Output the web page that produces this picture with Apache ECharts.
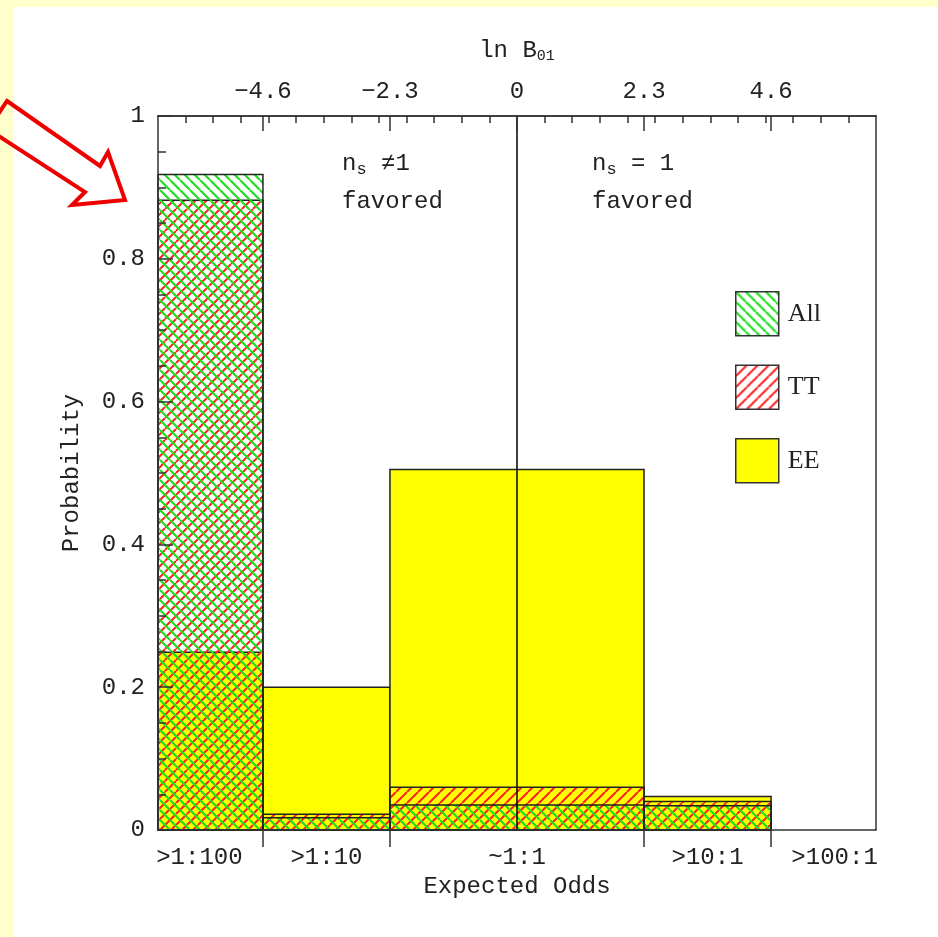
<!DOCTYPE html>
<html>
<head>
<meta charset="utf-8">
<script src="https://cdn.jsdelivr.net/npm/echarts@6/dist/echarts.min.js"></script>
<style>
  html, body { margin: 0; padding: 0; background: #ffffcc; }
  #chart { width: 938px; height: 937px; }
</style>
</head>
<body>
<div id="chart"></div>
<script>
// ---- data ----
const binEdges = [-6.9, -4.6, -2.3, 2.3, 4.6, 6.9];          // ln B01 bin edges
const oddsLabels = ['>1:100', '>1:10', '~1:1', '>10:1', '>100:1'];
const eeProb  = [0.249, 0.200, 0.505, 0.047, 0];
const ttProb  = [0.882, 0.022, 0.060, 0.040, 0];
const allProb = [0.918, 0.017, 0.035, 0.034, 0];
const lnBTicks = [-4.6, -2.3, 0, 2.3, 4.6];
const lnBMinorTicks = [-6, -5.5, -5, -4.5, -4, -3.5, -3, -2.5, -2, -1.5, -1, -0.5, 0,
                       0.5, 1, 1.5, 2, 2.5, 3, 3.5, 4, 4.5, 5, 5.5, 6];
const dividerLnB = 0;
const lnBRange = [-6.5, 6.5];

// ---- helpers ----
const binCenters = oddsLabels.map((_, i) => (binEdges[i] + binEdges[i + 1]) / 2);
const innerEdges = binEdges.slice(1, -1);
function toData(vals) { return vals.map((v, i) => [binEdges[i], binEdges[i + 1], v]); }

function hatch(color, dir, s, lw) {
  const c = document.createElement('canvas');
  c.width = s; c.height = s;
  const g = c.getContext('2d');
  g.strokeStyle = color; g.lineWidth = lw;
  g.beginPath();
  for (let k = -1; k <= 1; k++) {
    if (dir === 'back') { g.moveTo(k * s, 0); g.lineTo(k * s + s, s); }
    else { g.moveTo(k * s, s); g.lineTo(k * s + s, 0); }
  }
  g.stroke();
  return c;
}
const greenPat = { image: hatch('#1ee01e', 'back', 10, 2.2), repeat: 'repeat' };
const redPat = { image: hatch('#ff2020', 'fwd', 11, 2.0), repeat: 'repeat' };
const yellow = '#ffff00';

function renderBin(fill) {
  return function (params, api) {
    const y = api.value(2);
    if (!(y > 0)) return null;
    const cs = params.coordSys;
    const p0 = api.coord([api.value(0), y]);
    const p1 = api.coord([api.value(1), 0]);
    const xl = Math.max(p0[0], cs.x), xr = Math.min(p1[0], cs.x + cs.width);
    return {
      type: 'rect',
      shape: { x: xl, y: p0[1], width: xr - xl, height: p1[1] - p0[1] },
      style: { fill: fill, stroke: '#222', lineWidth: 1.5 }
    };
  };
}

const FONT = 'Liberation Mono';
const TXT = '#222';
const axisLineStyle = { color: '#333', width: 1.5 };
const fmtMinus = v => (v < 0 ? '\u2212' + Math.abs(v) : String(v));

const chart = echarts.init(document.getElementById('chart'), null, { renderer: 'canvas' });
chart.setOption({
  backgroundColor: '#ffffcc',
  animation: false,
  grid: { left: 158, right: 62, top: 116, bottom: 107, containLabel: false },
  legend: {
    orient: 'vertical', left: 730, top: 286,
    itemWidth: 43, itemHeight: 44, itemGap: 28, icon: 'rect',
    selectedMode: false,
    data: ['All', 'TT', 'EE'],
    itemStyle: { borderColor: '#333', borderWidth: 1.5 },
    textStyle: { fontFamily: 'Liberation Serif', fontSize: 26, color: TXT, padding: [0, 0, 0, 4] }
  },
  xAxis: [
    {
      type: 'value', min: lnBRange[0], max: lnBRange[1], position: 'bottom', z: 10,
      axisLine: { show: true, onZero: false, lineStyle: axisLineStyle },
      axisTick: { show: true, customValues: innerEdges, inside: false, length: 17, lineStyle: axisLineStyle },
      axisLabel: {
        customValues: binCenters, margin: 16,
        formatter: v => { let b = 0; binCenters.forEach((c, i) => { if (Math.abs(c - v) < Math.abs(binCenters[b] - v)) b = i; }); return oddsLabels[b]; },
        fontFamily: FONT, fontSize: 24, color: TXT
      },
      splitLine: { show: false },
      name: 'Expected Odds', nameLocation: 'middle', nameGap: 45,
      nameTextStyle: { fontFamily: FONT, fontSize: 24, color: TXT }
    },
    {
      type: 'value', min: lnBRange[0], max: lnBRange[1], position: 'top', z: 10,
      axisLine: { show: true, onZero: false, lineStyle: axisLineStyle },
      axisTick: { show: true, customValues: lnBTicks, inside: true, length: 15, lineStyle: axisLineStyle },
      axisLabel: { customValues: lnBTicks, margin: 12, formatter: fmtMinus, fontFamily: FONT, fontSize: 24, color: TXT },
      splitLine: { show: false },
      name: 'ln B{sub|01}', nameLocation: 'middle', nameGap: 52,
      nameTextStyle: {
        fontFamily: FONT, fontSize: 24, color: TXT,
        rich: {
          sub: { fontFamily: FONT, fontSize: 15, color: TXT, padding: [12, 0, 0, 0] }
        }
      }
    },
    {
      type: 'value', min: lnBRange[0], max: lnBRange[1], position: 'top', z: 10,
      axisLine: { show: true, onZero: false, lineStyle: axisLineStyle },
      axisTick: { show: true, customValues: lnBMinorTicks, inside: true, length: 7, lineStyle: axisLineStyle },
      axisLabel: { show: false },
      splitLine: { show: false }
    }
  ],
  yAxis: [
    {
      type: 'value', min: 0, max: 1, interval: 0.2, position: 'left', z: 10,
      axisLine: { show: true, onZero: false, lineStyle: axisLineStyle },
      axisTick: { show: true, inside: true, length: 15, lineStyle: axisLineStyle },
      minorTick: { show: true, splitNumber: 4, length: 8, lineStyle: axisLineStyle },
      axisLabel: { margin: 13, fontFamily: FONT, fontSize: 24, color: TXT },
      splitLine: { show: false },
      name: 'Probability', nameLocation: 'middle', nameGap: 74,
      nameTextStyle: { fontFamily: FONT, fontSize: 24, color: TXT }
    },
    {
      type: 'value', min: 0, max: 1, position: 'right', z: 10,
      axisLine: { show: true, onZero: false, lineStyle: axisLineStyle },
      axisTick: { show: false }, axisLabel: { show: false }, splitLine: { show: false }
    }
  ],
  series: [
    {
      name: 'EE', type: 'custom', xAxisIndex: 0, yAxisIndex: 0,
      renderItem: renderBin(yellow), encode: { x: [0, 1], y: 2 },
      itemStyle: { color: yellow, borderColor: '#333', borderWidth: 1.5 },
      data: toData(eeProb), z: 2
    },
    {
      name: 'TT', type: 'custom', xAxisIndex: 0, yAxisIndex: 0,
      renderItem: renderBin(redPat), encode: { x: [0, 1], y: 2 },
      itemStyle: { color: redPat, borderColor: '#333', borderWidth: 1.5 },
      data: toData(ttProb), z: 3
    },
    {
      name: 'All', type: 'custom', xAxisIndex: 0, yAxisIndex: 0,
      renderItem: renderBin(greenPat), encode: { x: [0, 1], y: 2 },
      itemStyle: { color: greenPat, borderColor: '#333', borderWidth: 1.5 },
      data: toData(allProb), z: 4,
      markLine: {
        silent: true, symbol: ['none', 'none'], label: { show: false },
        lineStyle: { color: '#000', width: 1.5, type: 'solid' },
        data: [{ xAxis: dividerLnB }]
      }
    }
  ],
  graphic: [
    { type: 'rect', z: -10, silent: true, shape: { x: 14, y: 7, width: 930, height: 940 }, style: { fill: '#ffffff' } },
    {
      type: 'polygon', z: 100, silent: true,
      shape: { points: [[7, 101], [100, 166], [108, 152], [125, 200], [72, 205], [85, 192], [-12, 129]] },
      style: { fill: 'rgba(0,0,0,0)', stroke: '#ee0000', lineWidth: 4, lineJoin: 'miter' }
    },
    {
      type: 'text', z: 100, left: 387 - 45, top: 145, silent: true,
      style: {
        text: 'n{s|s} \u22601\nfavored', fontFamily: FONT, fontSize: 24, fill: TXT, align: 'center', lineHeight: 38,
        rich: { s: { fontFamily: FONT, fontSize: 17, fill: TXT, padding: [10, 0, 0, 0] } }
      }
    },
    {
      type: 'text', z: 100, left: 644 - 52, top: 145, silent: true,
      style: {
        text: 'n{s|s} = 1\nfavored', fontFamily: FONT, fontSize: 24, fill: TXT, align: 'center', lineHeight: 38,
        rich: { s: { fontFamily: FONT, fontSize: 17, fill: TXT, padding: [10, 0, 0, 0] } }
      }
    }
  ]
});
</script>
</body>
</html>
